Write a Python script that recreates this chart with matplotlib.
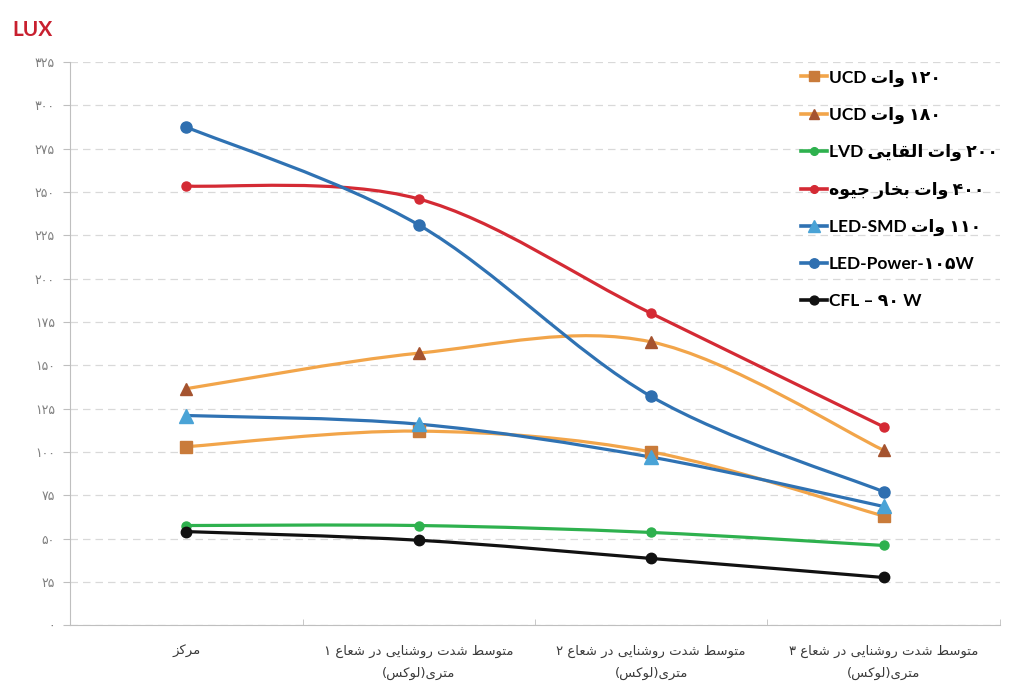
import re
import numpy as np
import matplotlib
matplotlib.use("Agg")
import matplotlib.pyplot as plt
from matplotlib.lines import Line2D
from matplotlib.path import Path
from matplotlib.patches import PathPatch

## data (lux)
categories = ['مرکز',
              'متوسط شدت روشنایی در شعاع ۱\nمتری(لوکس)',
              'متوسط شدت روشنایی در شعاع ۲\nمتری(لوکس)',
              'متوسط شدت روشنایی در شعاع ۳\nمتری(لوکس)']
ucd120 = [103, 112, 100, 63]
ucd180 = [136.5, 157, 163.5, 101]
lvd200 = [57.5, 57.5, 53.5, 46]
mercury400 = [253.5, 246, 180, 114.5]
led_smd = [121, 116, 97, 68.5]
led_power = [287.5, 231, 132, 77]
cfl90 = [54, 49, 38.5, 27.5]
series_labels = ['۱۲۰ وات UCD', '۱۸۰ وات UCD', '۲۰۰ وات القایی LVD', '۴۰۰ وات بخار جیوه',
                 '۱۱۰ وات LED-SMD', 'LED-Power-۱۰۵W', 'CFL – ۹۰ W']
yticks = list(range(0, 326, 25))


## tiny persian shaping (no arabic_reshaper / bidi available)
FORMS = {
    'ا': (0xFE8D, 0xFE8E, None, None), 'ب': (0xFE8F, 0xFE90, 0xFE91, 0xFE92),
    'ت': (0xFE95, 0xFE96, 0xFE97, 0xFE98), 'ج': (0xFE9D, 0xFE9E, 0xFE9F, 0xFEA0),
    'خ': (0xFEA5, 0xFEA6, 0xFEA7, 0xFEA8), 'د': (0xFEA9, 0xFEAA, None, None),
    'ر': (0xFEAD, 0xFEAE, None, None), 'ز': (0xFEAF, 0xFEB0, None, None),
    'س': (0xFEB1, 0xFEB2, 0xFEB3, 0xFEB4), 'ش': (0xFEB5, 0xFEB6, 0xFEB7, 0xFEB8),
    'ط': (0xFEC1, 0xFEC2, 0xFEC3, 0xFEC4), 'ع': (0xFEC9, 0xFECA, 0xFECB, 0xFECC),
    'ق': (0xFED5, 0xFED6, 0xFED7, 0xFED8), 'ل': (0xFEDD, 0xFEDE, 0xFEDF, 0xFEE0),
    'م': (0xFEE1, 0xFEE2, 0xFEE3, 0xFEE4), 'ن': (0xFEE5, 0xFEE6, 0xFEE7, 0xFEE8),
    'ه': (0xFEE9, 0xFEEA, 0xFEEB, 0xFEEC), 'و': (0xFEED, 0xFEEE, None, None),
    'ک': (0xFB8E, 0xFB8F, 0xFB90, 0xFB91), 'ی': (0xFBFC, 0xFBFD, 0xFBFE, 0xFBFF),
}
MIRROR = {'(': ')', ')': '('}


def shape(text):
    out = []
    for i, c in enumerate(text):
        if c not in FORMS:
            out.append(c)
            continue
        prev = text[i - 1] if i > 0 else ''
        nxt = text[i + 1] if i + 1 < len(text) else ''
        jp = prev in FORMS and FORMS[prev][2] is not None
        jn = nxt in FORMS and FORMS[c][2] is not None
        iso, fin, ini, med = FORMS[c]
        f = med if (jp and jn) else fin if jp else ini if jn else iso
        out.append(chr(f))
    return ''.join(out)


def fa(text):
    lines = []
    for line in text.split('\n'):
        if not any(c in FORMS for c in line):
            lines.append(line)
            continue
        toks = re.findall(r'[A-Za-z0-9\u06f0-\u06f9\-]+|.', shape(line))
        lines.append(''.join(MIRROR.get(t, t) for t in reversed(toks)))
    return '\n'.join(lines)


def fa_num(v):
    return str(v).translate(str.maketrans('0123456789', '۰۱۲۳۴۵۶۷۸۹'))


def smooth(xs, ys):
    pts = np.column_stack([xs, ys]).astype(float)
    n = len(pts)
    verts, codes = [pts[0]], [Path.MOVETO]
    for i in range(n - 1):
        p0, p1, p2, p3 = pts[max(i - 1, 0)], pts[i], pts[i + 1], pts[min(i + 2, n - 1)]
        verts += [p1 + (p2 - p0) / 6, p2 - (p3 - p1) / 6, p2]
        codes += [Path.CURVE4] * 3
    return Path(verts, codes)


FONT = ['Lato', 'DejaVu Sans']
plt.rcParams['font.family'] = FONT

series = [ucd120, ucd180, lvd200, mercury400, led_smd, led_power, cfl90]
line_colors = ['#f2a54a', '#f2a54a', '#2eb14e', '#d42a34', '#2f72b3', '#2f72b3', '#111111']
mark_colors = ['#c97b3a', '#a5532f', '#2eb14e', '#d42a34', '#4aa3d6', '#2f6fb0', '#111111']
markers = ['s', '^', 'o', 'o', '^', 'o', 'o']
msizes = [8, 8, 6.5, 6.5, 10, 8, 7.5]

fig = plt.figure(figsize=(10.17, 6.9), dpi=100)
ax = fig.add_axes([0.069, 0.094, 0.914, 0.816])
x = np.arange(len(categories))

handles = []
for ys, lc, mc, m, ms, lab in zip(series, line_colors, mark_colors, markers, msizes, series_labels):
    ax.add_patch(PathPatch(smooth(x, ys), fill=False, edgecolor=lc, lw=2.3,
                           capstyle='round', joinstyle='round', zorder=3))
    ax.plot(x, ys, ls='none', marker=m, ms=ms, mfc=mc, mec=mc, zorder=4)
    handles.append(Line2D([], [], color=lc, lw=2.6, marker=m, ms=ms * 0.85, mfc=mc, mec=mc, label=fa(lab)))

ax.set_xlim(-0.5, 3.5)
ax.set_ylim(0, 325)
ax.set_yticks(yticks)
ax.set_yticklabels([fa_num(v) for v in yticks], fontsize=9, color='#7f7f7f',
                   family=['DejaVu Sans'])
ax.set_xticks(x)
ax.set_xticklabels([fa(c) for c in categories], fontsize=9.5, color='#3a3a3a',
                   family=['DejaVu Sans'], linespacing=1.9)
ax.set_xticks(np.arange(0.5, 3.6, 1), minor=True)
ax.tick_params(axis='x', which='major', length=0, pad=14)
ax.tick_params(axis='x', which='minor', length=4, direction='in', color='#bfbfbf')
ax.tick_params(axis='y', length=5, color='#bfbfbf', pad=6)
ax.grid(axis='y', color='#d9d9d9', ls=(0, (6, 4)), lw=0.9)
ax.set_axisbelow(True)
for s in ['top', 'right']:
    ax.spines[s].set_visible(False)
ax.spines['left'].set_color('#bfbfbf')
ax.spines['bottom'].set_color('#bfbfbf')

fig.text(0.012, 0.948, 'LUX', color='#c8202f', fontsize=15, fontweight='bold', family=FONT)

fig.legend(handles=handles, loc='upper left', bbox_to_anchor=(0.772, 0.922), frameon=False,
           prop={'family': FONT, 'weight': 'bold', 'size': 12.5}, handlelength=1.5,
           handletextpad=0.1, labelspacing=1.17)

fig.savefig('out.png', dpi=100, facecolor='white')
